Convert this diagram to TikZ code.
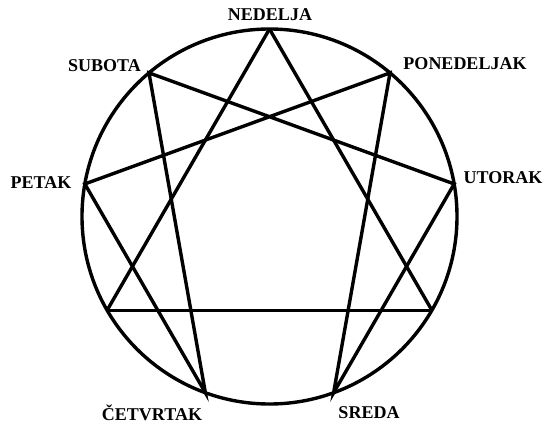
\documentclass[tikz,border=0pt]{standalone}
\usepackage{fontspec}
\setmainfont{Liberation Serif}
\usepackage{tikz}
\usetikzlibrary{positioning}

\begin{document}
\begin{tikzpicture}[
        x=1pt, y=1pt,
        every node/.style={font=\fontsize{18}{20}\selectfont\bfseries},
        day/.style={anchor=base, inner sep=0pt},
        ring/.style={line width=3.4pt},
        chord/.style={line width=3.4pt, line join=miter},
        base/.style={line width=2.8pt}
    ]
%
    \useasboundingbox (-269.5,-206.5) rectangle (275.5,216.5);
%
    % Points on the circle
    \coordinate (nedelja) at (90:187.5);
    \coordinate (ponedeljak) at (50:187.5);
    \coordinate (utorak) at (10:187.5);
    \coordinate (treca) at (-30:187.5);
    \coordinate (sreda) at (-70:187.5);
    \coordinate (cetvrtak) at (-110:187.5);
    \coordinate (sesta) at (-150:187.5);
    \coordinate (petak) at (170:187.5);
    \coordinate (subota) at (130:187.5);
%
    % Circle
    \node[draw, circle, ring, minimum size=375pt, inner sep=0pt] (krug) at (0,0) {};
%
    % Triangle
    \draw[chord] (nedelja) -- (treca);
    \draw[chord] (nedelja) -- (sesta);
    \draw[base] (sesta) -- (treca);
%
    % Hexad
    \draw[chord] (ponedeljak) -- (sreda) -- (utorak) -- (subota) -- (cetvrtak) -- (petak) -- cycle;
%
    % Labels
    \node[day] (lnedelja) at (0.5,195.5) {NEDELJA};
    \node[day] (lponedeljak) at (195.5,146.5) {PONEDELJAK};
    \node[day] (lutorak) at (233.5,33.5) {UTORAK};
    \node[day] (lsreda) at (99.5,-201.5) {SREDA};
    \node[day] (lcetvrtak) at (-117.5,-203.5) {ČETVRTAK};
    \node[day] (lpetak) at (-228.5,28.5) {PETAK};
    \node[day] (lsubota) at (-165,144.5) {SUBOTA};
%
\end{tikzpicture}
\end{document}
